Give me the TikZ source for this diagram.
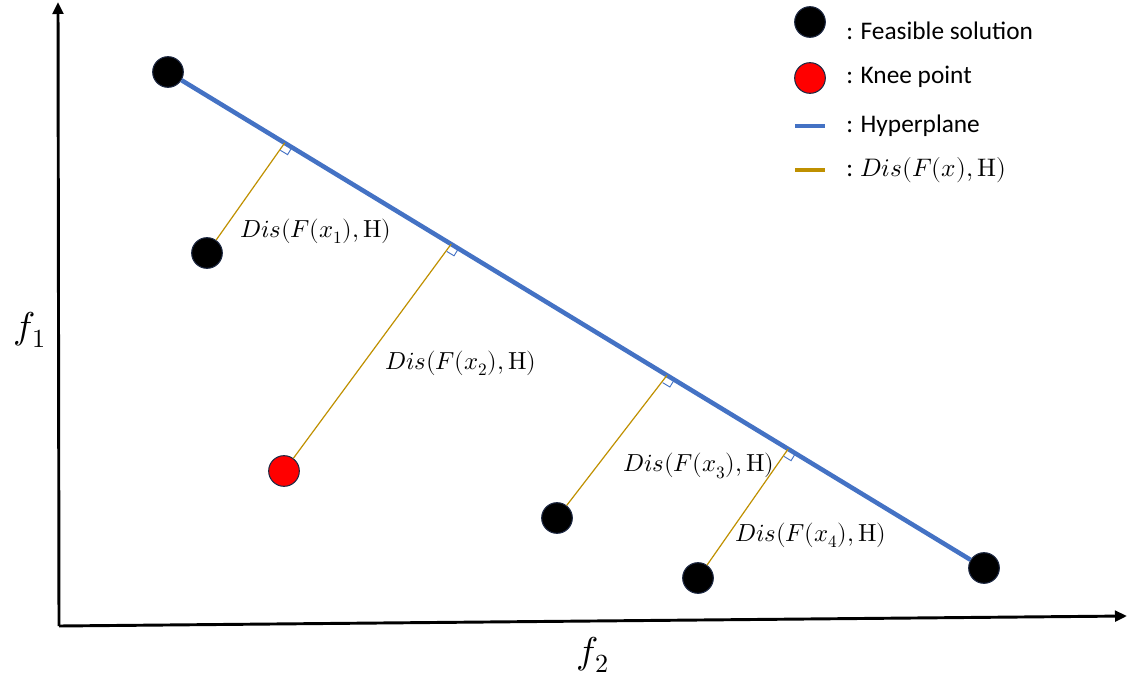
\documentclass[tikz,border=0pt]{standalone}
\usepackage{fontspec}
\usepackage{unicode-math}
\setmainfont{Carlito}
\setmathfont{Latin Modern Math}
\usetikzlibrary{arrows.meta,calc}
\definecolor{hblue}{HTML}{4472C4}
\definecolor{dgold}{HTML}{BF9000}
\definecolor{rim}{HTML}{1F2A44}
\begin{document}
\begin{tikzpicture}[x=0.75pt,y=-0.75pt,
  dot/.style={circle,fill=black,draw=rim,line width=0.8pt,minimum size=23pt,inner sep=0pt},
  knee/.style={dot,fill=red},
  hyper/.style={hblue,line width=3.4pt},
  dist/.style={dgold,line width=0.9pt},
  axis/.style={line width=2.2pt,-{Triangle[length=9pt,width=8pt]}},
  dlabel/.style={font=\fontsize{18.5}{22}\selectfont,inner sep=0pt},
  legtext/.style={font=\fontsize{19}{22}\selectfont,anchor=west,inner sep=0pt},
  rmark/.style={hblue,line width=0.7pt},
  axlabel/.style={font=\fontsize{28}{32}\selectfont,inner sep=0pt}]
\useasboundingbox (0,0) rectangle (1127,681);

% axes
\coordinate (O) at (59,626);
\coordinate (ytip) at (58,2);
\coordinate (xtip) at (1127,616);
\draw[axis] (O) -- (ytip);
\draw[axis] (O) -- (xtip);
\node[axlabel] (f1) at (30,330) {$f_1$};
\node[axlabel] (f2) at (593,655) {$f_2$};

% points
\node[dot] (p0) at (168,72) {};
\node[dot] (p1) at (207,253) {};
\node[knee] (p2) at (284,471) {};
\node[dot] (p3) at (557,518) {};
\node[dot] (p4) at (698,578) {};
\node[dot] (p5) at (984,568) {};

% hyperplane
\draw[hyper] (p0) -- (p5);

% feet
\coordinate (h1) at ($(p0)!0.143!(p5)$);
\coordinate (h2) at ($(p0)!0.347!(p5)$);
\coordinate (h3) at ($(p0)!0.6115!(p5)$);
\coordinate (h4) at ($(p0)!0.760!(p5)$);

\foreach \i in {1,2,3,4}{
  \draw[dist] (p\i) -- (h\i);
  \draw[rmark] ($(h\i)+(7.3,4.4)$) -- ++(-4.4,7.3) -- ++(-7.3,-4.4);
}

% distance labels
\node[dlabel] (d1) at (316,231) {$Dis(F(x_1),\symup{H})$};
\node[dlabel] (d2) at (461,363) {$Dis(F(x_2),\symup{H})$};
\node[dlabel] (d3) at (699,466) {$Dis(F(x_3),\symup{H})$};
\node[dlabel] (d4) at (811,535) {$Dis(F(x_4),\symup{H})$};

% legend
\node[dot] (l1) at (810,22) {};
\node[knee] (l2) at (810,78) {};
\coordinate (l3a) at (795,126);
\coordinate (l3b) at (825,126);
\coordinate (l4a) at (795,170);
\coordinate (l4b) at (825,170);
\draw[hblue,line width=3pt] (l3a) -- (l3b);
\draw[dgold,line width=3pt] (l4a) -- (l4b);
\node[legtext] (t1) at (846,31) {: Feasible solution};
\node[legtext] (t2) at (846,77) {: Knee point};
\node[legtext] (t3) at (846,126) {: Hyperplane};
\node[legtext] (t4) at (846,170) {: $Dis(F(x),\symup{H})$};
\end{tikzpicture}
\end{document}
